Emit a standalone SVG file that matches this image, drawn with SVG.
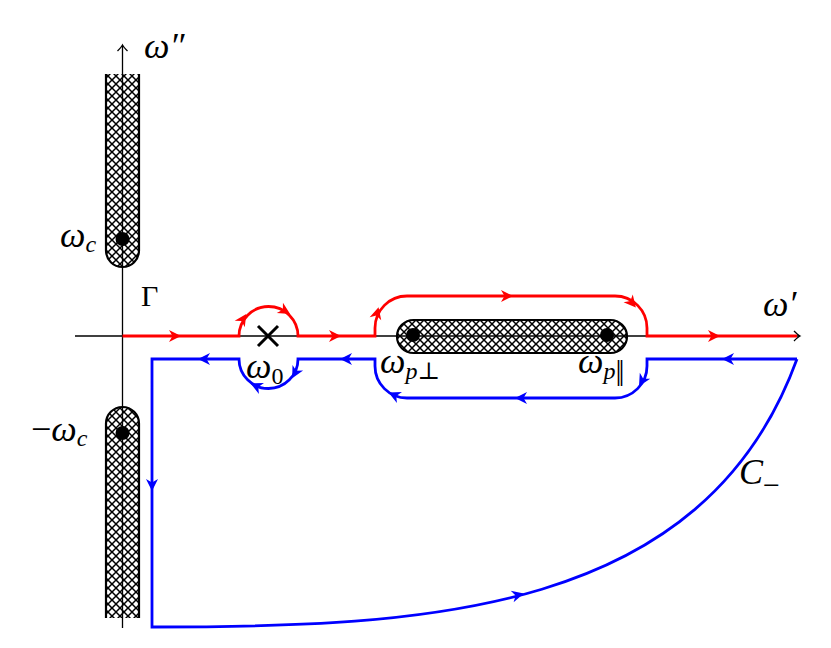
<svg xmlns="http://www.w3.org/2000/svg" xmlns:xlink="http://www.w3.org/1999/xlink" width="831" height="648" viewBox="0 0 831 648">
<style>
.ax{stroke:#000;stroke-width:1.3;fill:none}
.strip{fill:url(#hatch);stroke:#000;stroke-width:2.2}
.red{stroke:#ff0000;stroke-width:2.8;fill:none;stroke-linejoin:miter}
.blue{stroke:#0000ff;stroke-width:2.8;fill:none;stroke-linejoin:miter}
.m{font-family:"Liberation Serif","DejaVu Serif",serif;font-style:italic;font-size:36px;fill:#000}
.up{font-family:"Liberation Serif","DejaVu Serif",serif;font-size:30px;fill:#000}
.sub{font-size:24px}
</style>
<defs>
<pattern id="hatch" patternUnits="userSpaceOnUse" width="8" height="8">
<rect width="8" height="8" fill="#fff"/>
<path d="M-1,-1 L9,9 M-1,9 L9,-1" stroke="#000" stroke-width="1.5"/>
</pattern>
<path id="ar" d="M6,0 L-6,-6 L-2.5,0 L-6,6 Z"/>
<path id="tip" d="M-6,-5 Q-2,-1 0,0 Q-2,1 -6,5" fill="none" stroke="#000" stroke-width="1.3"/>
</defs>

<g id="axes">
<line class="ax" x1="75" y1="336" x2="799" y2="336"/>
<use xlink:href="#tip" transform="translate(800,336)"/>
<line class="ax" x1="122.5" y1="628" x2="122.5" y2="46"/>
<use xlink:href="#tip" transform="translate(122.5,45) rotate(-90)"/>
</g>

<g id="cut-upper">
<path class="strip" d="M106,74 V250.5 A16.5,16.5 0 0 0 139,250.5 V74"/>
<line class="ax" x1="122.5" y1="74" x2="122.5" y2="267"/>
<circle cx="122.5" cy="239" r="7" fill="#000"/>
</g>
<g id="cut-lower">
<path class="strip" d="M106,618 V423.5 A16.5,16.5 0 0 1 139,423.5 V618"/>
<line class="ax" x1="122.5" y1="407" x2="122.5" y2="618"/>
<circle cx="122.5" cy="433" r="7" fill="#000"/>
</g>
<g id="cut-horizontal">
<rect class="strip" x="397" y="320" width="230" height="33" rx="16.5"/>
<line class="ax" x1="397" y1="336" x2="627" y2="336"/>
<circle cx="413" cy="335" r="7" fill="#000"/>
<circle cx="607" cy="335" r="7" fill="#000"/>
</g>
<g id="pole">
<path d="M258,326 L278,346 M278,326 L258,346" stroke="#000" stroke-width="3" fill="none"/>
</g>

<g id="connectors">
<path class="red" d="M122.5,336 H239 A29.5,29.5 0 0 1 298,336 H375 V328 A32,32 0 0 1 407,296 H615 A32,32 0 0 1 647,328 V336 H797"/>
<g fill="#ff0000">
<use xlink:href="#ar" transform="translate(175,336)"/>
<use xlink:href="#ar" transform="translate(243,319) rotate(-57)"/>
<use xlink:href="#ar" transform="translate(285,311) rotate(31)"/>
<use xlink:href="#ar" transform="translate(335,336)"/>
<use xlink:href="#ar" transform="translate(377,313) rotate(-75)"/>
<use xlink:href="#ar" transform="translate(507,296)"/>
<use xlink:href="#ar" transform="translate(632,303) rotate(50)"/>
<use xlink:href="#ar" transform="translate(714,336)"/>
</g>
<path class="blue" d="M797,359 H647 V366 A32,32 0 0 1 615,398 H407 A32,32 0 0 1 375,366 V359 H298 A29.5,29.5 0 0 1 239,359 H152 V627 C425,627 703.6,615.6 797,359"/>
<g fill="#0000ff">
<use xlink:href="#ar" transform="translate(728,359) rotate(180)"/>
<use xlink:href="#ar" transform="translate(642,381) rotate(120)"/>
<use xlink:href="#ar" transform="translate(521,398) rotate(180)"/>
<use xlink:href="#ar" transform="translate(394,395) rotate(205)"/>
<use xlink:href="#ar" transform="translate(346,359) rotate(180)"/>
<use xlink:href="#ar" transform="translate(295,373) rotate(118)"/>
<use xlink:href="#ar" transform="translate(256,386) rotate(205)"/>
<use xlink:href="#ar" transform="translate(204,359) rotate(180)"/>
<use xlink:href="#ar" transform="translate(152,485) rotate(90)"/>
<use xlink:href="#ar" transform="translate(518,595) rotate(-14)"/>
</g>
</g>

<g id="labels">
<text class="m" x="144" y="58">ω″</text>
<text class="m" x="763" y="316">ω′</text>
<text class="up" x="141" y="306">Γ</text>
<text class="m" x="60" y="247">ω<tspan class="sub" dy="5">c</tspan></text>
<text class="m" x="31" y="441"><tspan font-style="normal">−</tspan>ω<tspan class="sub" dy="5">c</tspan></text>
<text class="m" x="246" y="378">ω<tspan class="sub" dy="6" font-style="normal">0</tspan></text>
<text class="m" x="380" y="373">ω<tspan class="sub" dy="6">p</tspan><tspan class="sub" font-style="normal">⊥</tspan></text>
<text class="m" x="578" y="373">ω<tspan class="sub" dy="6">p</tspan><tspan font-size="30" font-style="normal" letter-spacing="-3" dy="1">||</tspan></text>
<text class="m" x="739" y="484">C<tspan font-size="30" dy="11" font-style="normal">−</tspan></text>
</g>
</svg>
